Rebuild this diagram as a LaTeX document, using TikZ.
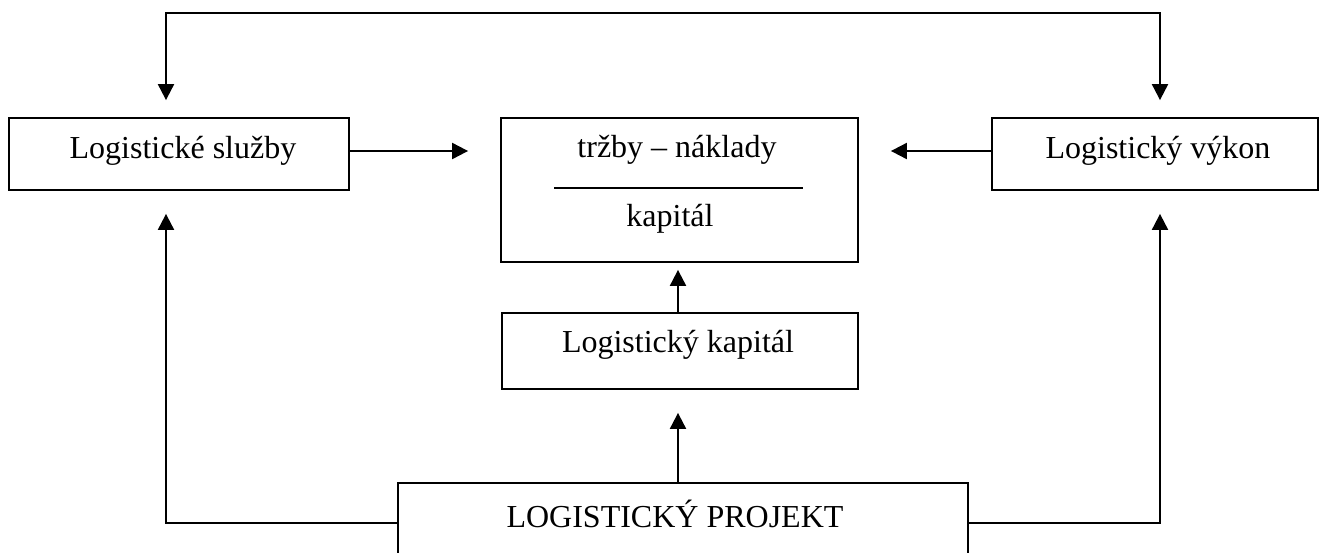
\documentclass[tikz,border=0pt]{standalone}
\usepackage{fontspec}
\setmainfont{Liberation Serif}
\usetikzlibrary{arrows.meta,calc}

\tikzset{
  box/.style={draw, line width=1.8pt, rectangle, inner sep=0pt},
  lbl/.style={inner sep=0pt, font=\fontsize{32}{38}\selectfont},
  conn/.style={line width=2pt},
  arr/.style={conn, -{Triangle[width=16pt,length=16pt]}},
  dblarr/.style={conn, {Triangle[width=16pt,length=16pt]}-{Triangle[width=16pt,length=16pt]}},
}

\begin{document}
\begin{tikzpicture}[x=1pt, y=-1pt]
\useasboundingbox (0,0) rectangle (1320,552);

% boxes
\node[box, minimum width=340pt, minimum height=72pt] (sluzby) at (179,154) {};
\node[lbl] (sluzbytxt) at (183,151) {Logistické služby};

\node[box, minimum width=357pt, minimum height=144pt] (frac) at (679.5,190) {};
\node[lbl] (num) at (677,150) {tržby – náklady};
\node[lbl] (den) at (670,219) {kapitál};
\coordinate (barL) at (554,188);
\coordinate (barR) at (803,188);
\draw[conn] (barL) -- (barR);

\node[box, minimum width=326pt, minimum height=72pt] (vykon) at (1155,154) {};
\node[lbl] (vykontxt) at (1158,151) {Logistický výkon};

\node[box, minimum width=356pt, minimum height=76pt] (kapital) at (680,351) {};
\node[lbl] (kapitaltxt) at (678,345) {Logistický kapitál};

\node[box, minimum width=570pt, minimum height=80pt] (projekt) at (683,523) {};
\node[lbl] (projekttxt) at (675,514) {LOGISTICKÝ PROJEKT};

% connectors
\coordinate (topL) at (166,13);
\coordinate (topR) at (1160,13);
\draw[dblarr, shorten <=17pt, shorten >=17pt]
  (topL |- sluzby.north) -- (topL) -- (topR) -- (topR |- vykon.north);

\draw[arr, shorten >=32pt] ([yshift=3pt]sluzby.east) -- ([yshift=3pt]sluzby.east -| frac.west);
\draw[arr, shorten >=32pt] ([yshift=3pt]vykon.west) -- ([yshift=3pt]vykon.west -| frac.east);

\draw[arr, shorten >=7pt] ([xshift=-2pt]kapital.north) -- ([xshift=-2pt]kapital.north |- frac.south);
\draw[arr, shorten >=23pt] ([xshift=-2pt]kapital.south |- projekt.north) -- ([xshift=-2pt]kapital.south);

\draw[arr, shorten >=23pt] (projekt.west) -| (topL |- sluzby.south);
\draw[arr, shorten >=23pt] (projekt.east) -| (topR |- vykon.south);
\end{tikzpicture}
\end{document}
